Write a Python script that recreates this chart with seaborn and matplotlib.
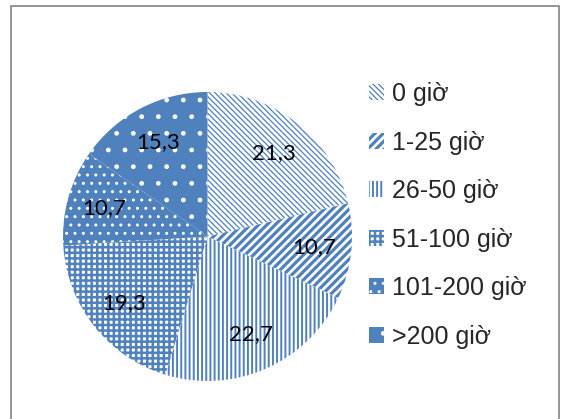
import matplotlib
matplotlib.use("Agg")
import matplotlib.pyplot as plt
import seaborn as sns
from matplotlib.patches import Rectangle

# ---- data ----
categories = ["0 giờ", "1-25 giờ", "26-50 giờ", "51-100 giờ", "101-200 giờ", ">200 giờ"]
values = [21.3, 10.7, 22.7, 19.3, 10.7, 15.3]
value_labels = ["21,3", "10,7", "22,7", "19,3", "10,7", "15,3"]

# ---- style ----
sns.set_theme(style="white")
plt.rcParams["font.family"] = ["Liberation Sans", "DejaVu Sans"]

BLUE = "#4F81BD"
WHITE = "#FFFFFF"
# (facecolor, hatch colour, hatch pattern, hatch linewidth)
styles = [
    (WHITE, BLUE, "\\" * 6, 0.9),
    (WHITE, BLUE, "/" * 4, 2.3),
    (WHITE, BLUE, "|" * 4, 1.4),
    (WHITE, BLUE, "+" * 3, 1.8),
    (BLUE, WHITE, "..", 1.0),
    (BLUE, WHITE, ".", 1.0),
]

fig = plt.figure(figsize=(5.61, 4.19), dpi=100)
fig.patch.set_facecolor("white")

ax = fig.add_axes([63 / 561, 38 / 419, 289 / 561, 289 / 419])

lab_iter = iter(value_labels)
wedges, texts, autotexts = ax.pie(
    values,
    startangle=90,
    counterclock=False,
    radius=1.0,
    autopct=lambda p: next(lab_iter),
    pctdistance=0.74,
    wedgeprops=dict(linewidth=0),
    textprops=dict(fontsize=16, color="black", family=["Lato", "DejaVu Sans"]),
)

for w, (fc, hc, hatch, hlw) in zip(wedges, styles):
    w.set_facecolor(fc)
    w.set_edgecolor(hc)
    w.set_hatch(hatch)
    w.set_linewidth(0)
    try:
        w.set_hatch_linewidth(hlw)
    except AttributeError:
        pass

ax.set_xlim(-1, 1)
ax.set_ylim(-1, 1)
ax.set_aspect("equal")

leg = fig.legend(
    wedges,
    categories,
    loc="upper left",
    bbox_to_anchor=(369 / 561, 1 - 82 / 419),
    frameon=False,
    fontsize=18,
    handlelength=0.6,
    handleheight=0.6,
    handletextpad=0.32,
    labelspacing=0.98,
    borderpad=0,
    borderaxespad=0,
)
for h, (fc, hc, hatch, hlw) in zip(leg.legend_handles, styles):
    try:
        h.set_hatch_linewidth(hlw)
    except AttributeError:
        pass

# chart frame
frame = Rectangle(
    (10.5 / 561, -0.05),
    (559 - 10.5) / 561,
    (419 - 6.5) / 419 + 0.05,
    transform=fig.transFigure,
    fill=False,
    edgecolor="#8C8C8C",
    linewidth=1.3,
    clip_on=False,
)
fig.patches.append(frame)

fig.savefig("out.png", dpi=100)
